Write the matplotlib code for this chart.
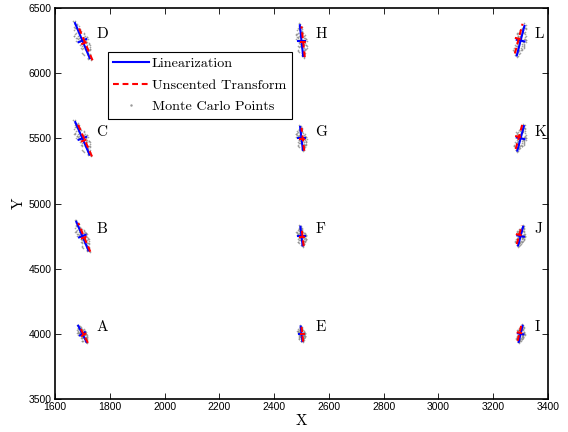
import matplotlib
matplotlib.use('Agg')
import matplotlib.pyplot as plt
from matplotlib.lines import Line2D
import numpy as np

# ---------------- data ----------------
labels = ['A', 'B', 'C', 'D', 'E', 'F', 'G', 'H', 'I', 'J', 'K', 'L']
cx = [1700, 1700, 1700, 1700, 2500, 2500, 2500, 2500, 3300, 3300, 3300, 3300]
cy = [4000, 4750, 5500, 6250, 4000, 4750, 5500, 6250, 4000, 4750, 5500, 6250]

# linearization covariance: major half-axis and minor half-axis vectors
lin_maj_dx = [-15, -22, -26, -27, -3, -4, -5, -6, 7, 9, 12, 14]
lin_maj_dy = [62, 110, 125, 135, 56, 72, 88, 118, 62, 72, 94, 114]
lin_min_dx = [9, 12, 14, 14, 10, 12, 13, 13, 10, 12, 14, 14]
lin_min_dy = [12, 10, 11, 12, 0, 0, 0, 0, -4, -5, -6, -6]

# unscented transform mean offset relative to linearization mean
ut_off_dx = [5, 7, 9, 10, 3, 4, 5, 6, -4, -5, -6, -7]
ut_off_dy = [-7, -10, -14, -16, -4, -5, -7, -9, 8, 10, 12, 15]

# Monte Carlo cloud template (normalized along major / minor axis)
mc_u = [0.04, -0.11, 0.29, -0.43, 0.61, -0.72, 0.17, -0.26, 0.87, -0.94,
        0.45, -0.07, 0.21, -0.56, 0.73, -0.35, 0.98, -1.04, 0.12, -0.18,
        0.52, -0.64, 0.34, -0.40, 0.78, -0.83, 0.01, -0.02, 0.26, -0.31,
        0.57, -0.67, 1.09, -0.99, 0.14, -0.23, 0.38, -0.49, 0.66, -0.75,
        0.08, -0.15, 0.47, -0.51, 0.84, -0.88, 0.24, -0.28, 0.54, -0.59,
        0.93, -0.79, 0.19, -0.37, 0.69, -0.46, 1.15, -1.12, 0.06, -0.05,
        0.41, -0.61, 0.31, -0.20, 0.76, -0.70, 0.10, -0.33, 0.49, -0.54,
        0.90, -0.96]
mc_v = [0.35, -0.62, 0.88, -0.21, 0.47, -0.95, -0.73, 1.12, 0.15, -0.28,
        -1.05, 0.58, -0.41, 0.77, -0.36, 1.21, -0.12, 0.24, -1.31, 0.93,
        -0.69, 0.31, 1.02, -0.84, 0.52, -0.17, -0.48, 1.38, -0.99, 0.66,
        0.08, -1.15, 0.19, -0.33, 0.71, -0.57, -1.26, 0.44, -0.86, 0.13,
        1.29, -0.78, 0.61, -0.05, -0.44, 0.39, -0.92, 1.08, 0.27, -1.19,
        -0.09, 0.55, 0.97, -0.64, 0.02, 1.16, -0.26, 0.11, -0.71, 0.83,
        -1.36, 0.74, -0.53, 0.46, -0.38, 0.22, 1.34, -1.01, -0.14, 0.89,
        0.41, -0.30]

xticks = [1600, 1800, 2000, 2200, 2400, 2600, 2800, 3000, 3200, 3400]
yticks = [3500, 4000, 4500, 5000, 5500, 6000, 6500]

legend_labels = ['Linearization', 'Unscented Transform', 'Monte Carlo Points']

# ---------------- plot ----------------
serif = 'cmr10'
tickfont = ['Liberation Sans Narrow', 'Liberation Sans']
cloud_width = 1.05

fig = plt.figure(figsize=(5.68, 4.32), dpi=100)
ax = fig.add_axes([0.0968, 0.0764, 0.868, 0.905])

mc_u_a = np.array(mc_u)
mc_v_a = np.array(mc_v)
dash = (0, (2.8, 1.8))
for i in range(len(labels)):
    x0, y0 = cx[i], cy[i]
    mx, my = lin_maj_dx[i], lin_maj_dy[i]
    nx, ny = lin_min_dx[i], lin_min_dy[i]
    # Monte Carlo points
    px = x0 + mc_u_a * mx + mc_v_a * nx * cloud_width
    py = y0 + mc_u_a * my + mc_v_a * ny * cloud_width
    ax.plot(px, py, '.', color='0.55', ms=2.4, mew=0, alpha=0.8, zorder=1)
    # linearization axes
    ax.plot([x0 - mx, x0 + mx], [y0 - my, y0 + my], '-', color='#0000ff', lw=1.5, zorder=2)
    ax.plot([x0 - nx, x0 + nx], [y0 - ny, y0 + ny], '-', color='#0000ff', lw=1.5, zorder=2)
    # unscented transform axes
    ux, uy = x0 + ut_off_dx[i], y0 + ut_off_dy[i]
    ax.plot([ux - mx, ux + mx], [uy - my, uy + my], color='#ff0000', lw=1.5, ls=dash, zorder=3)
    ax.plot([ux - nx, ux + nx], [uy - ny, uy + ny], color='#ff0000', lw=1.5, ls=dash, zorder=3)
    ax.text(x0 + 50, y0 + 50, labels[i], fontsize=11, family=serif,
            ha='left', va='center')

ax.set_xlim(1600, 3400)
ax.set_ylim(3500, 6500)
ax.set_xticks(xticks)
ax.set_yticks(yticks)
ax.set_xticklabels([str(t) for t in xticks], family=tickfont, fontsize=7.5)
ax.set_yticklabels([str(t) for t in yticks], family=tickfont, fontsize=7.5)
ax.tick_params(direction='in', length=4, width=0.6, top=True, right=True, pad=2.5)
for s in ax.spines.values():
    s.set_linewidth(1.2)

ax.set_xlabel('X', family=serif, fontsize=11, labelpad=1)
ax.set_ylabel('Y', family=serif, fontsize=11, labelpad=2)

handles = [Line2D([], [], color='#0000ff', lw=1.5),
           Line2D([], [], color='#ff0000', lw=1.5, ls=dash),
           Line2D([], [], color='0.6', marker='.', ms=1.5, ls='none')]
leg = ax.legend(handles, legend_labels, loc='upper left',
                bbox_to_anchor=(0.107, 0.888), borderaxespad=0,
                prop={'family': serif, 'size': 10.2}, handlelength=2.5,
                handletextpad=0.2, borderpad=0.4, labelspacing=0.6,
                fancybox=False, framealpha=1, edgecolor='black')
leg.get_frame().set_linewidth(0.8)

fig.savefig('out.png', dpi=100)
